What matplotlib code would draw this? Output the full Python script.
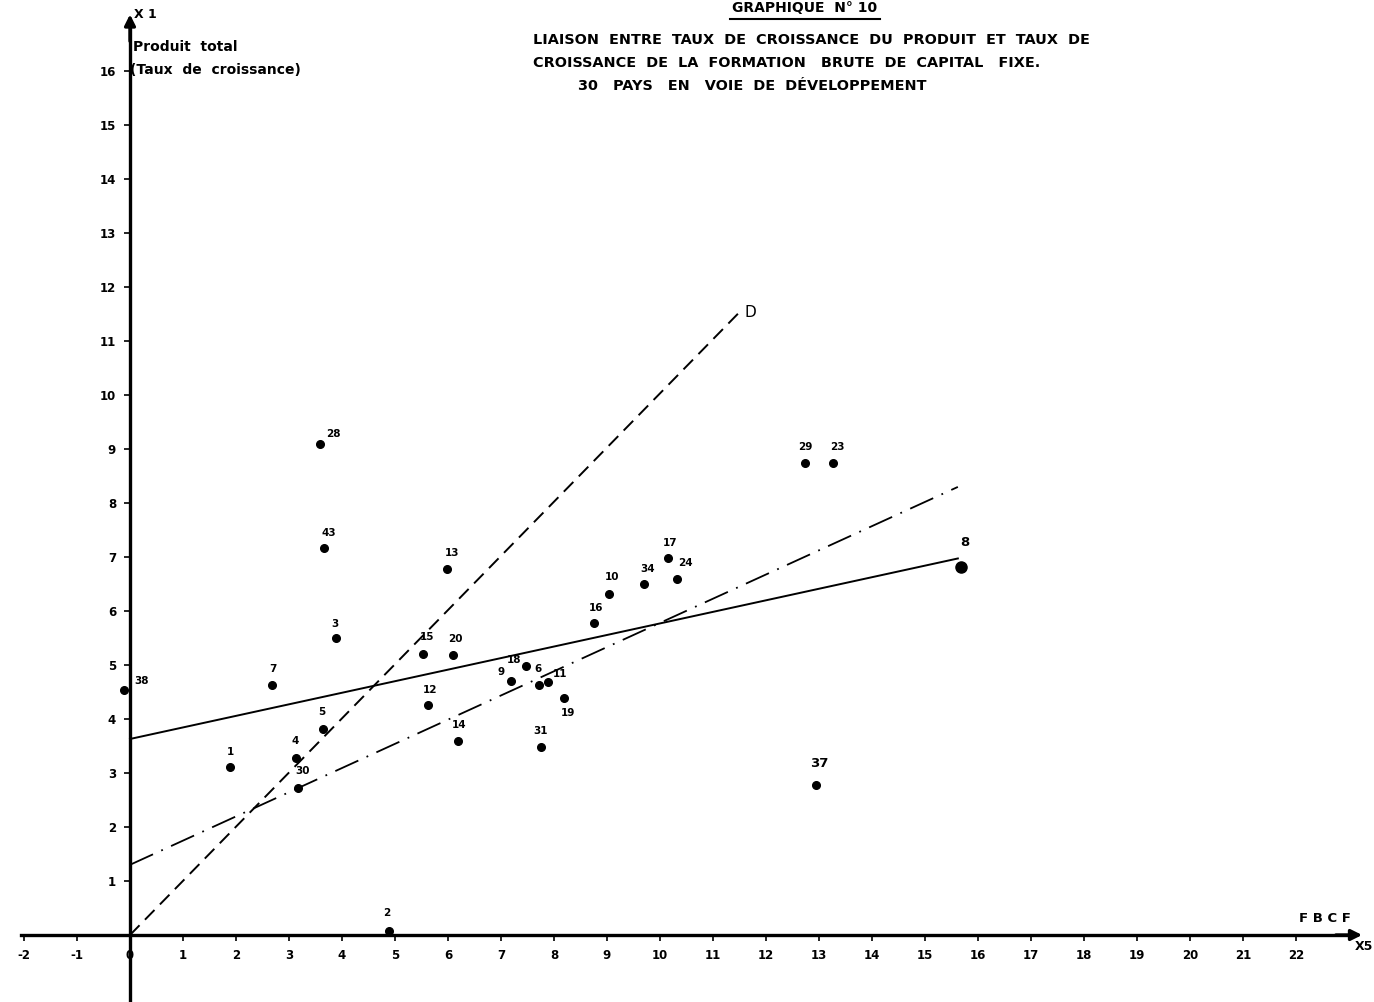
import matplotlib
matplotlib.use("Agg")
from matplotlib import pyplot as plt
from matplotlib.lines import Line2D
import numpy as np

# numero des pays et coordonnees (x5 = taux FBCF, x1 = taux produit)
pays = [38, 28, 43, 3, 7, 5, 1, 4, 30, 13, 15, 20, 12, 14, 18,
        9, 6, 11, 19, 31, 16, 10, 34, 17, 24, 29, 23, 8, 37, 2]
x5 = [-0.12, 3.58, 3.66, 3.89, 2.68, 3.64, 1.89, 3.13, 3.17, 5.99, 5.52, 6.09, 5.63, 6.18, 7.48,
      7.19, 7.72, 7.89, 8.18, 7.75, 8.76, 9.03, 9.69, 10.16, 10.33, 12.74, 13.26, 15.67, 12.94, 4.89]
x1 = [4.54, 9.09, 7.17, 5.50, 4.63, 3.81, 3.11, 3.28, 2.72, 6.77, 5.20, 5.19, 4.26, 3.60, 4.99,
      4.70, 4.63, 4.69, 4.38, 3.48, 5.77, 6.31, 6.50, 6.99, 6.59, 8.74, 8.74, 6.81, 2.78, 0.08]

# position des numeros (pixels, par rapport au point)
dx = [18, 14, 5, -1, 1, -1, 0, -1, 5, 5, 5, 3, 2, 2, -12,
      -10, -1, 12, 4, 0, 2, 3, 4, 2, 8, 0, 5, 4, 3, -2]
dy = [4, 5, 10, 9, 11, 12, 10, 12, 12, 11, 12, 11, 10, 11, 1,
      4, 11, 3, -10, 11, 10, 12, 10, 10, 11, 11, 11, 18, 15, 13]

# droites d'ajustement : ordonnee, pente, x final
droites = {
    "solide": (3.63, 0.214, 15.62),
    "mixte": (1.30, 0.448, 15.62),
    "D": (0.0, 1.003, 11.5),
}

xticks = list(range(-2, 23))
yticks = list(range(1, 17))

fig = plt.figure(figsize=(13.74, 10.02), dpi=100)
ax = fig.add_axes([0, 0, 1, 1])
ax.set_xlim(-130 / 53, (1374 - 130) / 53)
ax.set_ylim(-(1002 - 935) / 54, 935 / 54)

for s in ["top", "right"]:
    ax.spines[s].set_visible(False)
ax.spines["left"].set_position(("data", 0))
ax.spines["bottom"].set_position(("data", 0))
ax.spines["left"].set_linewidth(2.4)
ax.spines["bottom"].set_linewidth(2.4)
ax.spines["left"].set_bounds(-1.3, 16.9)
ax.spines["bottom"].set_bounds(-2.05, 23.0)

ax.set_xticks(xticks)
ax.set_xticklabels([str(t) for t in xticks])
ax.set_yticks(yticks)
ax.tick_params(axis="x", direction="out", length=4, width=1.2, pad=6, labelsize=8.5)
ax.tick_params(axis="y", direction="out", length=4, width=1.2, pad=6, labelsize=8.5)
for lab in ax.get_xticklabels() + ax.get_yticklabels():
    lab.set_fontweight("bold")

# fleches des axes
ax.annotate("", xy=(23.3, 0), xytext=(22.7, 0),
            arrowprops=dict(arrowstyle="-|>", color="k", lw=2.4, mutation_scale=16))
ax.annotate("", xy=(0, 17.1), xytext=(0, 16.5),
            arrowprops=dict(arrowstyle="-|>", color="k", lw=2.4, mutation_scale=16))

# droites
b, a, xf = droites["solide"]
xs = np.array([0, xf])
ax.plot(xs, b + a * xs, color="k", lw=1.4)
b, a, xf = droites["mixte"]
xs = np.array([0, xf])
ax.plot(xs, b + a * xs, color="k", lw=1.3, linestyle=(0, (14, 5, 1, 5)))
b, a, xf = droites["D"]
xs = np.array([0, xf])
ax.plot(xs, b + a * xs, color="k", lw=1.4, linestyle=(0, (7, 4)))
ax.text(xf + 0.1, b + a * xf, "D", fontsize=11, va="center", ha="left")

# points
tailles = [8 if p == 8 else 5.5 for p in pays]
for i, p in enumerate(pays):
    ax.plot(x5[i], x1[i], "o", color="k", ms=tailles[i])
    fs = 9.5 if p in (8, 37) else 7.5
    ax.annotate(str(p), (x5[i], x1[i]), xytext=(dx[i], dy[i]),
                textcoords="offset pixels", ha="center", va="bottom" if dy[i] > 0 else "top",
                fontsize=fs, fontweight="bold")

# legendes des axes
ax.text(0.08, 17.05, "X 1", fontsize=9, fontweight="bold", va="center", ha="left")
ax.text(0.05, 16.45, "Produit  total", fontsize=10, fontweight="bold", va="center", ha="left")
ax.text(0.0, 16.02, "(Taux  de  croissance)", fontsize=10, fontweight="bold", va="center", ha="left")
ax.text(22.05, 0.18, "F B C F", fontsize=9.5, fontweight="bold", va="bottom", ha="left")
ax.text(23.1, -0.1, "X5", fontsize=9, fontweight="bold", va="top", ha="left")

# titre
fig.text(805 / 1374, 1 - 1 / 1002, "GRAPHIQUE  N° 10", fontsize=10, fontweight="bold",
         ha="center", va="top")
fig.add_artist(Line2D([730 / 1374, 880 / 1374], [1 - 19 / 1002, 1 - 19 / 1002], color="k", lw=1.5))
fig.text(533 / 1374, 1 - 40 / 1002, "LIAISON  ENTRE  TAUX  DE  CROISSANCE  DU  PRODUIT  ET  TAUX  DE",
         fontsize=10.4, fontweight="bold", ha="left", va="center")
fig.text(533 / 1374, 1 - 63 / 1002, "CROISSANCE  DE  LA  FORMATION   BRUTE  DE  CAPITAL   FIXE.",
         fontsize=10.4, fontweight="bold", ha="left", va="center")
fig.text(578 / 1374, 1 - 86 / 1002, "30   PAYS   EN   VOIE  DE  DÉVELOPPEMENT",
         fontsize=10.4, fontweight="bold", ha="left", va="center")

fig.savefig("out.png", dpi=100)
